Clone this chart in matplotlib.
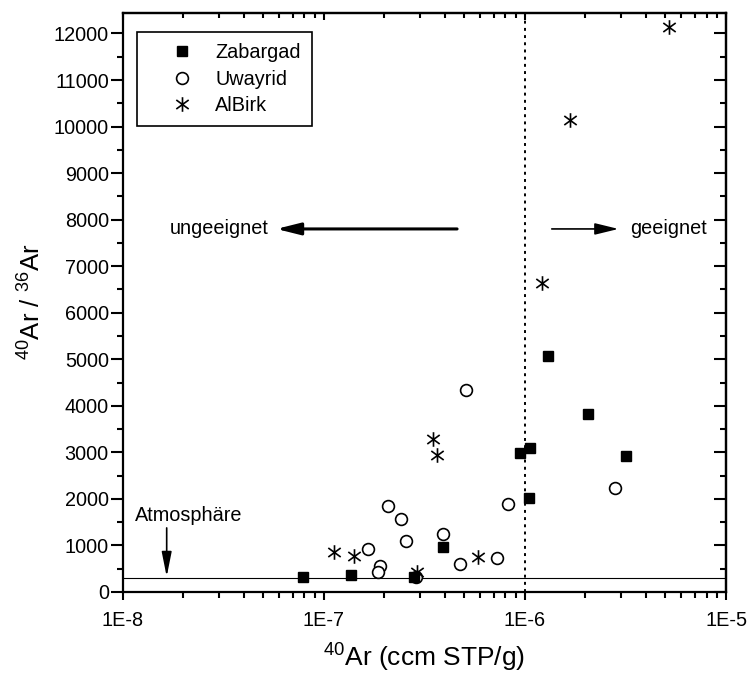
import numpy as np
import matplotlib
matplotlib.use('Agg')
import matplotlib.pyplot as plt
from matplotlib.path import Path
from matplotlib.ticker import FixedLocator, LogLocator, MultipleLocator, NullFormatter

plt.rcParams['font.family'] = ['Liberation Sans', 'DejaVu Sans']
plt.rcParams['mathtext.fontset'] = 'custom'
plt.rcParams['mathtext.rm'] = 'Liberation Sans'
plt.rcParams['mathtext.it'] = 'Liberation Sans'

# ---- data ----
zab_x = [7.87e-8, 1.36e-7, 2.82e-7, 3.93e-7, 9.46e-7, 1.055e-6, 1.05e-6, 1.30e-6, 2.07e-6, 3.19e-6]
zab_y = [329, 366, 316, 961, 2996, 3103, 2028, 5061, 3828, 2925]

uwa_x = [1.65e-7, 1.90e-7, 1.86e-7, 2.08e-7, 2.42e-7, 2.55e-7, 2.87e-7, 3.90e-7,
         4.74e-7, 5.10e-7, 7.30e-7, 8.20e-7, 2.80e-6]
uwa_y = [918, 566, 437, 1849, 1570, 1103, 316, 1240, 602, 4337, 724, 1886, 2237]

alb_x = [1.13e-7, 1.41e-7, 2.90e-7, 3.49e-7, 3.64e-7, 5.83e-7, 1.21e-6, 1.68e-6, 5.21e-6]
alb_y = [867, 781, 437, 3290, 2940, 760, 6638, 10136, 12144]

atm_ratio = 295.5
limit_x = 1e-6

x_ticks = [1e-8, 1e-7, 1e-6, 1e-5]
x_labels = ['1E-8', '1E-7', '1E-6', '1E-5']

# asterisk marker (vertical + two diagonals)
star = Path([(0, -1), (0, 1), (-0.85, -0.62), (0.85, 0.62), (-0.85, 0.62), (0.85, -0.62)],
            [Path.MOVETO, Path.LINETO] * 3)

fig = plt.figure(figsize=(7.49, 6.73), dpi=100)
ax = fig.add_axes([0.1638, 0.1204, 0.8055, 0.8610])

ax.plot(zab_x, zab_y, ls='none', marker='s', ms=7.6, mfc='k', mec='k', label='Zabargad', zorder=4)
ax.plot(uwa_x, uwa_y, ls='none', marker='o', ms=8.5, mfc='white', mec='k', mew=1.2, label='Uwayrid', zorder=3)
ax.plot(alb_x, alb_y, ls='none', marker=star, ms=10.5, mfc='none', mec='k', mew=1.2, label='AlBirk', zorder=5)

ax.axhline(atm_ratio, color='k', lw=0.8, zorder=1)
ax.axvline(limit_x, color='k', lw=1.4, ls=(0, (1.5, 2.2)), zorder=1)

ax.set_xscale('log')
ax.set_xlim(1e-8, 1e-5)
ax.set_ylim(0, 12450)

ax.xaxis.set_major_locator(FixedLocator(x_ticks))
ax.set_xticklabels(x_labels)
ax.xaxis.set_minor_locator(LogLocator(base=10, subs=np.arange(2, 10)))
ax.xaxis.set_minor_formatter(NullFormatter())
ax.yaxis.set_major_locator(MultipleLocator(1000))
ax.yaxis.set_minor_locator(MultipleLocator(500))

ax.tick_params(axis='x', which='major', direction='out', length=6, width=1.5, labelsize=14.3, pad=8,
               top=False)
ax.tick_params(axis='x', which='minor', direction='out', length=4, width=1.5, top=False)
ax.tick_params(axis='y', which='major', direction='out', length=9, width=1.5, labelsize=14.3, pad=1,
               right=False)
ax.tick_params(axis='y', which='minor', direction='out', length=4.5, width=1.5, right=False)

for s in ax.spines.values():
    s.set_linewidth(1.6)

# inward ticks on top and right
top = ax.secondary_xaxis('top')
top.xaxis.set_major_locator(FixedLocator(x_ticks))
top.xaxis.set_minor_locator(LogLocator(base=10, subs=np.arange(2, 10)))
top.xaxis.set_minor_formatter(NullFormatter())
top.tick_params(which='major', direction='in', length=5, width=1.5, labeltop=False)
top.tick_params(which='minor', direction='in', length=3.5, width=1.5)
top.spines['top'].set_linewidth(1.6)

right = ax.secondary_yaxis('right')
right.yaxis.set_major_locator(MultipleLocator(1000))
right.yaxis.set_minor_locator(MultipleLocator(500))
right.tick_params(which='major', direction='in', length=9, width=1.5, labelright=False)
right.tick_params(which='minor', direction='in', length=4, width=1.5)
right.spines['right'].set_linewidth(1.6)

ax.set_xlabel(r'$^{40}$Ar (ccm STP/g)', fontsize=19, labelpad=8)
ax.set_ylabel(r'$^{40}$Ar / $^{36}$Ar', fontsize=18.5, labelpad=6)

# annotations
ax.annotate('', xy=(5.81e-8, 7800), xytext=(4.6e-7, 7800),
            arrowprops=dict(arrowstyle='-|>,head_length=0.8,head_width=0.2', lw=2.2, color='k',
                            shrinkA=0, shrinkB=0, mutation_scale=18))
ax.text(5.3e-8, 7800, 'ungeeignet', ha='right', va='center', fontsize=14.3)

ax.annotate('', xy=(2.92e-6, 7800), xytext=(1.36e-6, 7800),
            arrowprops=dict(arrowstyle='-|>,head_length=0.9,head_width=0.22', lw=1.2, color='k',
                            shrinkA=0, shrinkB=0, mutation_scale=16))
ax.text(3.34e-6, 7800, 'geeignet', ha='left', va='center', fontsize=14.3)

ax.annotate('', xy=(1.655e-8, 329), xytext=(1.655e-8, 1376),
            arrowprops=dict(arrowstyle='-|>,head_length=1.0,head_width=0.2', lw=1.2, color='k',
                            shrinkA=0, shrinkB=0, mutation_scale=15))
ax.text(2.14e-8, 1640, 'Atmosphäre', ha='center', va='center', fontsize=14.3)

leg = ax.legend(loc='upper left', bbox_to_anchor=(0.0237, 0.9663), borderaxespad=0,
                fontsize=14.3, frameon=True, fancybox=False, framealpha=1, edgecolor='k',
                borderpad=0.55, handlelength=3.4, handletextpad=0.0, labelspacing=0.38)
leg.get_frame().set_linewidth(1.2)

fig.savefig('out.png', dpi=100)
